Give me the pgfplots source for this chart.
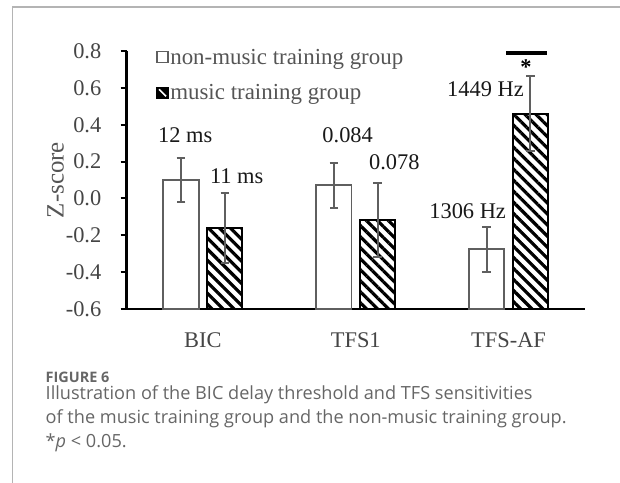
\documentclass[border=0pt]{standalone}
\usepackage{fontspec}
\setmainfont{Liberation Serif}
\newfontfamily\capfont{Open Sans}
\usepackage{pgfplots}
\pgfplotsset{compat=1.18}
\usepackage{pgfplotstable}
\usetikzlibrary{patterns.meta}

\definecolor{framegray}{HTML}{B4B4B4}
\definecolor{textgray}{HTML}{454545}
\definecolor{leggray}{HTML}{555555}
\definecolor{bargray}{HTML}{5F5F5F}
\definecolor{capgray}{HTML}{666666}

% z-scores (mean and error half-width)
\pgfplotstableread{
x y err
0 0.100 0.118
1 0.072 0.122
2 -0.276 0.121
}\nonmusic
\pgfplotstableread{
x y err
0 -0.160 0.190
1 -0.118 0.202
2 0.460 0.203
}\music

\newcommand\lbl{\fontsize{22.5}{27}\selectfont}
\newcommand\capsize{\capfont\fontsize{18.2}{22}\selectfont}

\begin{document}
\begin{tikzpicture}[x=1bp,y=1bp]
\useasboundingbox (0,0) rectangle (620,-483);
\draw[framegray, line width=1.5] (12.7,-483) -- (12.7,-7.2) -- (620,-7.2);

% bars start at the bottom of the axis (-0.6), so y is shifted by 0.6
\begin{axis}[
  at={(126.5bp,-309bp)}, anchor=south west,
  scale only axis, width=458.5bp, height=258bp,
  xmin=-0.5, xmax=2.5, ymin=0, ymax=1.4,
  axis x line=bottom, axis y line=left,
  axis line style={-, black, line width=2.3bp},
  ybar=8.5bp, bar width=35.3bp,
  xtick={0,1,2}, xticklabels={BIC,TFS1,TFS-AF},
  major x tick style={draw=none},
  ytick={0,0.2,0.4,0.6,0.8,1.0,1.2,1.4},
  yticklabels={-0.6,-0.4,-0.2,0.0,0.2,0.4,0.6,0.8},
  tick align=outside, major tick length=6bp,
  major y tick style={black, line width=2bp},
  yticklabel style={font=\lbl, text=textgray, anchor=east, inner sep=0pt, xshift=-19bp},
  xticklabel style={font=\lbl, text=textgray, anchor=base, inner sep=0pt, yshift=-32bp},
  error bars/y dir=both, error bars/y explicit,
  error bars/error bar style={bargray, line width=2bp},
  error bars/error mark options={rotate=90, mark size=4.3bp, bargray, line width=2bp},
  clip=false,
  legend style={at={(axis cs:-0.307,1.421)}, anchor=north west, draw=none, fill=none,
    font=\fontsize{23}{27}\selectfont, text=leggray, row sep=16bp, inner sep=0pt,
    nodes={inner sep=1.5bp}},
  legend cell align=left,
  /tikz/every even column/.append style={column sep=3bp},
]
\addplot[draw=bargray, fill=white, line width=1.8bp,
  legend image code/.code={\draw[bargray, fill=white, line width=1.6bp] (0bp,-5.5bp) rectangle (11bp,5.5bp);}]
  table[x=x, y expr=\thisrow{y}+0.6, y error=err] {\nonmusic};
\addplot[draw=black, line width=2bp,
  pattern={Lines[angle=-45,distance=7.8bp,line width=3.2bp]}, pattern color=black,
  legend image code/.code={\draw[black, fill=black, line width=1.6bp] (0bp,-5.5bp) rectangle (11bp,5.5bp);
    \draw[white, line width=1.6bp] (2bp,3.5bp) -- (9bp,-3.5bp);}]
  table[x=x, y expr=\thisrow{y}+0.6, y error=err] {\music};
\legend{non-music training group, music training group}

\node[font=\lbl, text=black!90] at (axis cs:-0.116,0.944) {12 ms};
\node[font=\lbl, text=black!90] at (axis cs:0.221,0.722) {11 ms};
\node[font=\lbl, text=black!90] at (axis cs:0.947,0.944) {0.084};
\node[font=\lbl, text=black!90] at (axis cs:1.252,0.798) {0.078};
\node[font=\lbl, text=black!90] at (axis cs:1.732,0.532) {1306 Hz};
\node[font=\lbl, text=black!90] at (axis cs:1.849,1.193) {1449 Hz};
\draw[black, line width=3.2bp] (axis cs:1.984,1.389) -- (axis cs:2.249,1.389);
\node[font=\lbl\bfseries, anchor=base, inner sep=0pt] at (axis cs:2.114,1.275) {*};
\end{axis}

\node[rotate=90, font=\fontsize{25}{30}\selectfont, text=leggray] at (55.5,-180) {Z-score};

\node[anchor=base west, inner sep=0pt, font=\capfont\bfseries\fontsize{14.5}{17}\selectfont, text=capgray] at (45.5,-382) {FIGURE 6};
\node[anchor=base west, inner sep=0pt, font=\capsize, text=capgray] at (45.5,-399.5) {Illustration of the BIC delay threshold and TFS sensitivities};
\node[anchor=base west, inner sep=0pt, font=\capsize, text=capgray] at (45.5,-423.5) {of the music training group and the non-music training group.};
\node[anchor=base west, inner sep=0pt, font=\capsize, text=capgray] at (45.5,-447) {*\textit{p} < 0.05.};
\end{tikzpicture}
\end{document}
